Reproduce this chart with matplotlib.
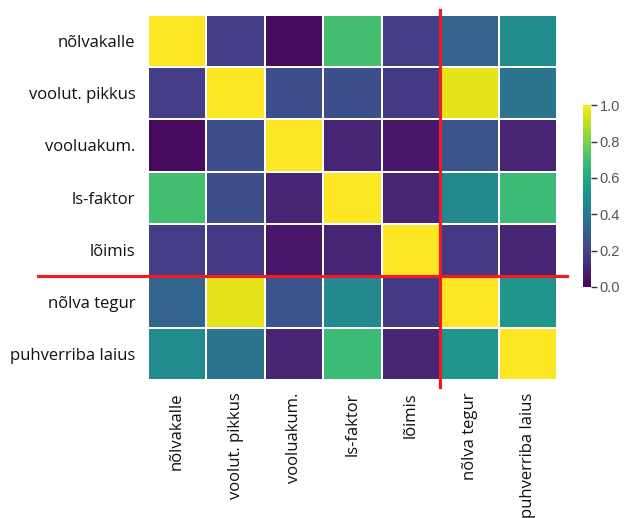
import numpy as np
import matplotlib
matplotlib.use("Agg")
import matplotlib.pyplot as plt

# ========================================================================
#                           Data
# ========================================================================
labels = ["nõlvakalle", "voolut. pikkus", "vooluakum.", "ls-faktor",
          "lõimis", "nõlva tegur", "puhverriba laius"]

nolvakalle     = [1.00, 0.18, 0.03, 0.70, 0.18, 0.32, 0.48]
voolut_pikkus  = [0.18, 1.00, 0.24, 0.24, 0.17, 0.96, 0.38]
vooluakum      = [0.03, 0.24, 1.00, 0.10, 0.06, 0.26, 0.10]
ls_faktor      = [0.70, 0.24, 0.10, 1.00, 0.10, 0.47, 0.68]
loimis         = [0.18, 0.17, 0.06, 0.10, 1.00, 0.17, 0.10]
nolva_tegur    = [0.32, 0.96, 0.26, 0.47, 0.17, 1.00, 0.52]
puhverriba     = [0.48, 0.38, 0.10, 0.68, 0.10, 0.52, 1.00]

corr = np.array([nolvakalle, voolut_pikkus, vooluakum, ls_faktor,
                 loimis, nolva_tegur, puhverriba])

cbar_ticks = [0.0, 0.2, 0.4, 0.6, 0.8, 1.0]

# ========================================================================
#                           Heatmap
# ========================================================================
fig = plt.figure(figsize=(6.29, 5.18), dpi=100)
ax = fig.add_axes([0.235, 0.266, 0.651, 0.705])
cax = fig.add_axes([0.927, 0.446, 0.013, 0.351])

n = len(labels)
mesh = ax.pcolormesh(np.arange(n + 1), np.arange(n + 1), corr,
                     cmap="viridis", vmin=0, vmax=1,
                     edgecolor="white", linewidth=1.3)
ax.set_xlim(0, n)
ax.set_ylim(n, 0)

ax.set_xticks(np.arange(n) + 0.5)
ax.set_yticks(np.arange(n) + 0.5)
ax.set_xticklabels(labels, rotation=90, family="Open Sans", fontsize=12)
ax.set_yticklabels(labels, family="Open Sans", fontsize=12)
ax.tick_params(length=0, pad=9, colors="#111111")
for s in ax.spines.values():
    s.set_visible(False)

# split between the first five variables and the last two
red = "#ee1c25"
ax.plot([5, 5], [-0.1, 7.13], color=red, linewidth=2.3, clip_on=False)
ax.plot([-1.88, 7.17], [5, 5], color=red, linewidth=2.3, clip_on=False)

cb = fig.colorbar(mesh, cax=cax, ticks=cbar_ticks)
cb.outline.set_visible(False)
cb.ax.tick_params(labelsize=10.5, length=4, width=1, colors="#333333", pad=2)
for t in cb.ax.get_yticklabels():
    t.set_family("Liberation Sans")
    t.set_color("#555555")

plt.savefig("out.png", dpi=100)
